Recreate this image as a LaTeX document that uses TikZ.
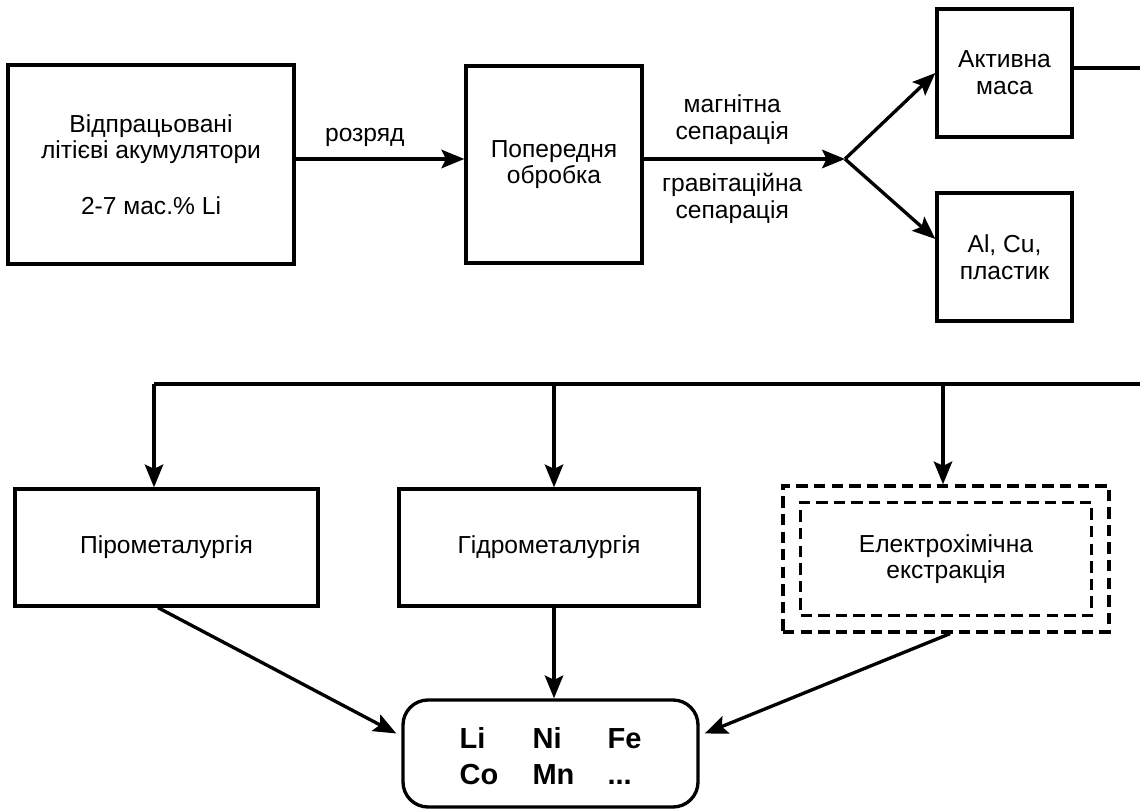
\documentclass[tikz,border=0pt]{standalone}
\usepackage{fontspec}
\setmainfont{Liberation Sans}
\usetikzlibrary{arrows.meta}

\begin{document}
\begin{tikzpicture}[
	box/.style={draw, line width=1.9pt, align=center, inner sep=0pt},
	dbox/.style={box, dash pattern=on 6.5pt off 3.5pt},
	lbl/.style={align=center},
	wire/.style={line width=1.9pt},
	arr/.style={wire, -{Stealth[length=13pt, width=10.5pt, inset=2.5pt]}},
	font=\fontsize{14}{15.2}\selectfont]
	% Paths, nodes and wires:
	\useasboundingbox (0, 0) rectangle (22.8, 16.16);
	\node[box, minimum width=5.72cm, minimum height=3.98cm](B1) at (3.02, 12.87){Відпрацьовані\\літієві акумулятори\\[0.58cm]2-7 мас.\% Li};
	\node[box, minimum width=3.52cm, minimum height=3.94cm](B2) at (11.08, 12.87){Попередня\\обробка};
	\node[box, minimum width=2.70cm, minimum height=2.56cm](B3) at (20.09, 14.70){Активна\\маса};
	\node[box, minimum width=2.70cm, minimum height=2.56cm](B4) at (20.09, 11.02){Al, Cu,\\пластик};
	\node[box, minimum width=6.06cm, minimum height=2.34cm](B5) at (3.33, 5.21){Пірометалургія};
	\node[box, minimum width=6.00cm, minimum height=2.34cm](B6) at (10.98, 5.21){Гідрометалургія};
	\node[dbox, minimum width=6.52cm, minimum height=2.92cm](B8) at (18.92, 4.98){};
	\node[dbox, minimum width=5.82cm, minimum height=2.26cm](B7) at (18.92, 4.98){Електрохімічна\\екстракція};
	\node[box, rounded corners=0.5cm, minimum width=5.90cm, minimum height=2.14cm, font=\fontsize{16.5}{20}\selectfont\bfseries](B9) at (11.01, 1.09){\raisebox{-0.12cm}[\height][\depth]{\begin{tabular}{@{}p{1.46cm}@{}p{1.5cm}@{}l@{}}Li & Ni & Fe\\Co & Mn & ...\end{tabular}}};
	\coordinate (S1) at (16.90, 12.98);
	\coordinate (R1) at (22.8, 14.80);
	\coordinate (R2) at (22.8, 8.48);
	\coordinate (T1) at (3.08, 8.48);
	\coordinate (T2) at (11.08, 8.48);
	\coordinate (T3) at (18.86, 8.48);
	\draw[arr] (B1.east |- S1) -- node[lbl, above=3pt, pos=0.41]{розряд} (B2.west |- S1);
	\draw[arr] (B2.east |- S1) -- node[lbl, above=4pt, pos=0.44]{магнітна\\сепарація} node[lbl, below=4pt, pos=0.44]{гравітаційна\\сепарація} (S1);
	\draw[arr] (S1) -- (B3.west);
	\draw[arr] (S1) -- ([yshift=3.6mm]B4.west);
	\draw[wire] (B3.east |- R1) -- (R1);
	\draw[wire] (R2) -- (T1);
	\draw[arr] (T1) -- (T1 |- B5.north);
	\draw[arr] (T2) -- (T2 |- B6.north);
	\draw[arr] (T3) -- (T3 |- B8.north);
	\draw[arr] ([xshift=-1.7mm]B5.south) -- ([shift={(-0.1, 0.4)}]B9.west);
	\draw[arr] (T2 |- B6.south) -- (T2 |- B9.north);
	\draw[arr] ([xshift=0.8mm]B8.south) -- ([shift={(0.1, 0.4)}]B9.east);
\end{tikzpicture}
\end{document}
